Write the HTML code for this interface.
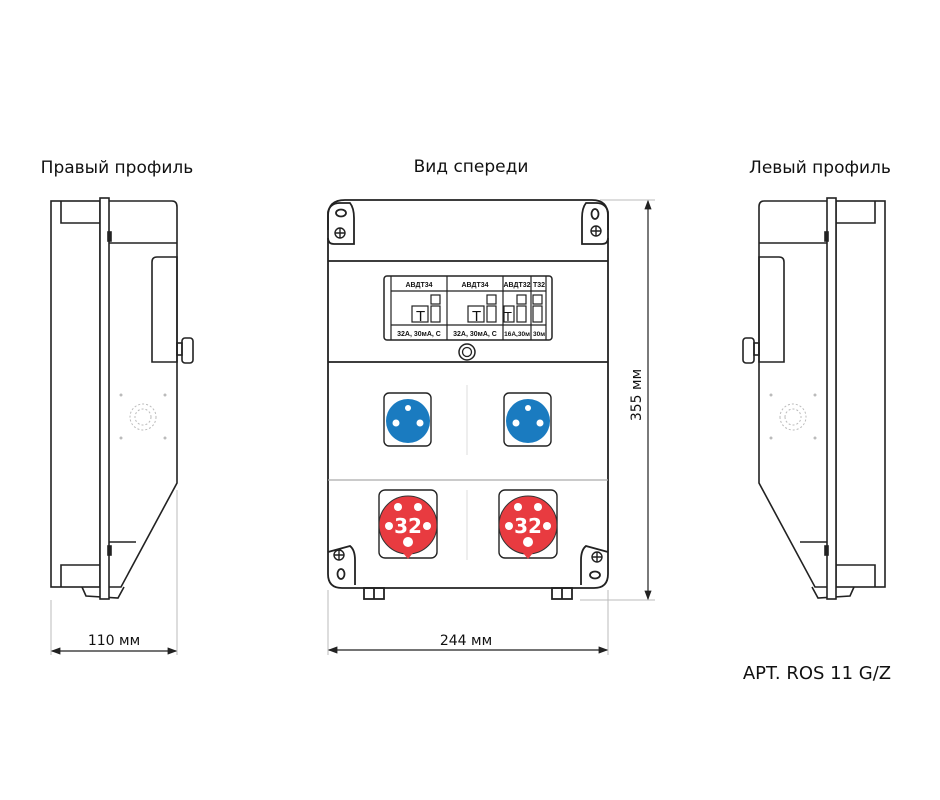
<!DOCTYPE html>
<html><head><meta charset="utf-8"><style>
html,body{margin:0;padding:0;background:#fff;}
svg{display:block;font-family:"DejaVu Sans","Liberation Sans",sans-serif;}
</style></head><body>
<svg width="940" height="800" viewBox="0 0 940 800" xmlns="http://www.w3.org/2000/svg">
<defs>
<marker id="ar" markerWidth="8" markerHeight="6" refX="7" refY="3" orient="auto"><path d="M0,0 L8,3 L0,6 z" fill="#222"/></marker>
<marker id="al" markerWidth="8" markerHeight="6" refX="1" refY="3" orient="auto"><path d="M8,0 L0,3 L8,6 z" fill="#222"/></marker>
<g id="prof" fill="none" stroke="#222" stroke-width="1.6">
  <rect x="51" y="201" width="49" height="386" fill="#fff"/>
  <polyline points="61,201 61,223 100,223"/>
  <polyline points="61,587 61,565 100,565"/>
  <path d="M82,587 L86,596 L118,598 L124,587"/>
  <rect x="100" y="198" width="9" height="401" fill="#fff"/>
  <path d="M109,201 L172,201 Q177,201 177,207 L177,483 L121,587 L109,587"/>
  <line x1="109" y1="243" x2="177" y2="243"/>
  <line x1="109" y1="542" x2="136" y2="542"/>
  <path d="M152,262 Q152,257 157,257 L177,257 L177,362 L152,362 z"/>
  <rect x="177" y="343" width="5" height="12"/>
  <rect x="182" y="338" width="11" height="25" rx="3"/>
  <rect x="108" y="232" width="3" height="9" fill="#222"/>
  <rect x="108" y="546" width="3" height="9" fill="#222"/>
  <g stroke="#bbb" stroke-dasharray="2,2" stroke-width="1"><circle cx="143" cy="417" r="13"/><circle cx="143" cy="417" r="8"/></g>
  <g fill="#bbb" stroke="none"><circle cx="121" cy="395" r="1.5"/><circle cx="165" cy="395" r="1.5"/><circle cx="121" cy="438" r="1.5"/><circle cx="165" cy="438" r="1.5"/></g>
</g>
</defs>
<g font-size="17" fill="#111">
<text x="117" y="173" text-anchor="middle">Правый профиль</text>
<text x="471" y="172" text-anchor="middle">Вид спереди</text>
<text x="820" y="173" text-anchor="middle">Левый профиль</text>
<text x="817" y="679" text-anchor="middle" font-size="18">APT. ROS 11 G/Z</text>
</g>
<use href="#prof"/>
<use href="#prof" transform="translate(936,0) scale(-1,1)"/>
<g fill="none" stroke="#222" stroke-width="1.8">
  <path d="M345,200 L592,200 Q608,200 608,216 L608,574 Q608,588 594,588 L342,588 Q328,588 328,574 L328,216 Q328,200 345,200 z" fill="#fff"/>
  <line x1="328" y1="261" x2="608" y2="261"/>
  <line x1="328" y1="362" x2="608" y2="362"/>
  <line x1="328" y1="480" x2="608" y2="480" stroke="#aaa" stroke-width="1.2"/>
  <path d="M328,230 L328,212 Q330,203 340,203 L350,203 Q354,208 354,218 L354,244 L334,244 Q328,244 328,238"/>
  <path d="M608,230 L608,212 Q606,203 596,203 L586,203 Q582,208 582,218 L582,244 L602,244 Q608,244 608,238"/>
  <path d="M328,552 L350,546 Q355,550 355,560 L355,585"/>
  <path d="M608,552 L586,546 Q581,550 581,560 L581,585"/>
  <rect x="364" y="588" width="20" height="11"/><line x1="374" y1="588" x2="374" y2="599"/>
  <rect x="552" y="588" width="20" height="11"/><line x1="562" y1="588" x2="562" y2="599"/>
  <ellipse cx="341" cy="213" rx="5" ry="3.5"/><ellipse cx="595" cy="214" rx="3.5" ry="5"/>
  <ellipse cx="341" cy="574" rx="3.5" ry="5"/><ellipse cx="595" cy="575" rx="5" ry="3.5"/>
  <g stroke-width="1.4"><circle cx="340" cy="233" r="5"/><path d="M335,233h10M340,228v10"/>
  <circle cx="596" cy="231" r="5"/><path d="M591,231h10M596,226v10"/>
  <circle cx="339" cy="555" r="5"/><path d="M334,555h10M339,550v10"/>
  <circle cx="597" cy="557" r="5"/><path d="M592,557h10M597,552v10"/></g>
  <circle cx="467" cy="352" r="8" stroke-width="1.5"/><circle cx="467" cy="352" r="4.5" stroke-width="1.3"/>
  <rect x="384" y="276" width="168" height="64" rx="3" stroke-width="1.5"/>
  <g stroke-width="1.2">
  <line x1="391" y1="276" x2="391" y2="340"/>
  <line x1="447" y1="276" x2="447" y2="340"/><line x1="503" y1="276" x2="503" y2="340"/><line x1="531" y1="276" x2="531" y2="340"/><line x1="546" y1="276" x2="546" y2="340"/>
  <line x1="391" y1="291" x2="546" y2="291"/><line x1="391" y1="325" x2="546" y2="325"/>
  <rect x="412" y="306" width="16" height="16"/><rect x="431" y="295" width="9" height="9"/><rect x="431" y="306" width="9" height="16"/>
  <rect x="468" y="306" width="16" height="16"/><rect x="487" y="295" width="9" height="9"/><rect x="487" y="306" width="9" height="16"/>
  <rect x="504" y="306" width="10" height="16"/><rect x="517" y="295" width="9" height="9"/><rect x="517" y="306" width="9" height="16"/>
  <rect x="533" y="295" width="9" height="9"/><rect x="533" y="306" width="9" height="16"/>
  </g>
  <g stroke="#ddd" stroke-width="1"><line x1="467" y1="385" x2="467" y2="455"/><line x1="467" y1="490" x2="467" y2="560"/></g>
  <rect x="384" y="393" width="47" height="53" rx="5" stroke-width="1.4"/>
  <rect x="504" y="393" width="47" height="53" rx="5" stroke-width="1.4"/>
  <rect x="379" y="490" width="58" height="68" rx="6" stroke-width="1.4"/>
  <rect x="499" y="490" width="58" height="68" rx="6" stroke-width="1.4"/>
</g>
<g font-size="7" font-weight="bold" fill="#111" text-anchor="middle" font-family="Liberation Sans, sans-serif">
<text x="419" y="287">АВДТ34</text><text x="475" y="287">АВДТ34</text><text x="517" y="287">АВДТ32</text><text x="539" y="287">Т32</text>
<text x="419" y="336">32А, 30мА, С</text><text x="475" y="336">32А, 30мА, С</text><text x="517" y="336" font-size="6.5">16А,30м</text><text x="539" y="336" font-size="6.5">30м</text>
</g>
<g font-size="15" fill="#111" font-family="Liberation Sans, sans-serif"><text x="416" y="321">Т</text><text x="472" y="321">Т</text><text x="504" y="321" font-size="13">Т</text></g>
<g>
<circle cx="408" cy="421" r="22" fill="#1a7bc0"/><circle cx="408" cy="408" r="3" fill="#fff"/><circle cx="396" cy="423" r="3.5" fill="#fff"/><circle cx="420" cy="423" r="3.5" fill="#fff"/>
<circle cx="528" cy="421" r="22" fill="#1a7bc0"/><circle cx="528" cy="408" r="3" fill="#fff"/><circle cx="516" cy="423" r="3.5" fill="#fff"/><circle cx="540" cy="423" r="3.5" fill="#fff"/>
<g stroke="#333" stroke-width="1"><circle cx="408" cy="525" r="29" fill="#e83b40"/><circle cx="528" cy="525" r="29" fill="#e83b40"/></g>
<path d="M403,553 L413,553 L408,559z M523,553 L533,553 L528,559z" fill="#e83b40"/>
<g fill="#fff"><circle cx="398" cy="507" r="4"/><circle cx="418" cy="507" r="4"/><circle cx="389" cy="526" r="4"/><circle cx="427" cy="526" r="4"/><circle cx="408" cy="542" r="5"/>
<circle cx="518" cy="507" r="4"/><circle cx="538" cy="507" r="4"/><circle cx="509" cy="526" r="4"/><circle cx="547" cy="526" r="4"/><circle cx="528" cy="542" r="5"/>
<text x="408" y="533" font-size="20" font-weight="bold" text-anchor="middle">32</text><text x="528" y="533" font-size="20" font-weight="bold" text-anchor="middle">32</text></g>
</g>
<g stroke="#bbb" stroke-width="1">
<line x1="51" y1="600" x2="51" y2="655"/><line x1="177" y1="490" x2="177" y2="655"/>
<line x1="328" y1="590" x2="328" y2="655"/><line x1="608" y1="590" x2="608" y2="655"/>
<line x1="600" y1="200" x2="655" y2="200"/><line x1="580" y1="600" x2="655" y2="600"/>
</g>
<g stroke="#222" stroke-width="1.2">
<line x1="52" y1="651" x2="176" y2="651" marker-start="url(#al)" marker-end="url(#ar)"/>
<line x1="329" y1="650" x2="607" y2="650" marker-start="url(#al)" marker-end="url(#ar)"/>
<line x1="648" y1="201" x2="648" y2="599" marker-start="url(#al)" marker-end="url(#ar)"/>
</g>
<g font-size="14" fill="#111" text-anchor="middle">
<text x="114" y="645">110 мм</text><text x="466" y="645">244 мм</text>
<text transform="translate(641,395) rotate(-90)">355 мм</text>
</g>
</svg>
</body></html>
